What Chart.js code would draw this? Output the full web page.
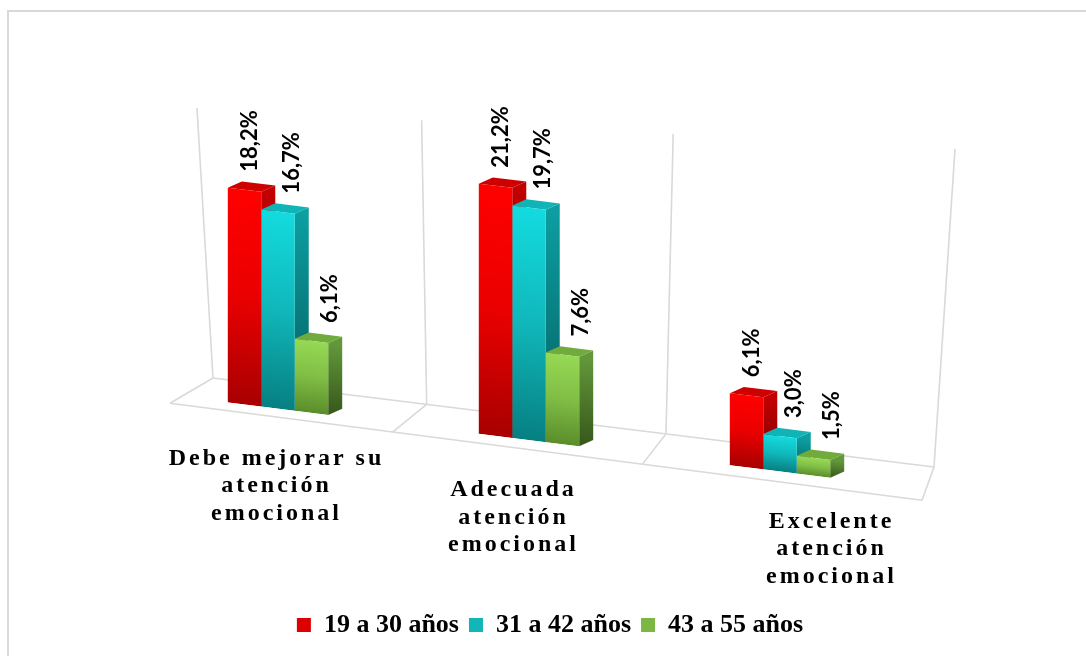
<!DOCTYPE html>
<html>
<head>
<meta charset="utf-8">
<script src="https://cdn.jsdelivr.net/npm/chart.js@4.4.1/dist/chart.umd.min.js"></script>
<style>
html,body{margin:0;padding:0;background:#fff;overflow:hidden}
#wrap{position:relative;width:1086px;height:656px;overflow:hidden}
#frame{position:absolute;left:7px;top:10px;width:1200px;height:800px;border-top:2px solid #d9d9d9;border-left:2px solid #d9d9d9;pointer-events:none}
canvas{position:absolute;left:0;top:0}
</style>
</head>
<body>
<div id="wrap"><canvas id="c" width="1086" height="656"></canvas><div id="frame"></div></div>
<script>
// ---- data ----
const categories = [
  ["Debe mejorar su", "atención", "emocional"],
  ["Adecuada", "atención", "emocional"],
  ["Excelente", "atención", "emocional"]
];
const seriesNames = ["19 a 30 años", "31 a 42 años", "43 a 55 años"];
const age19to30 = [18.2, 21.2, 6.1];
const age31to42 = [16.7, 19.7, 3.0];
const age43to55 = [6.1, 7.6, 1.5];
const valueAxisMax = 25;

// ---- style ----
const palette = [
  {front:['#ff0000','#ea0000','#a80000'], side:['#c20000','#760000'], top:'#cf0000', legend:'#dc0000'},
  {front:['#13dbdf','#10b7ba','#077f81'], side:['#0c9ea1','#045c5e'], top:'#10b3b6', legend:'#12b6b9'},
  {front:['#96d954','#80bd45','#5a8d2b'], side:['#62983a','#36561a'], top:'#70ab3c', legend:'#7cb746'}
];
const K = 0.125;        // floor slope (perspective tilt)
const DX = 14, DY = -8; // bar depth

function frontFill(d) {
  return (c) => {
    const pal = palette[d];
    if (c.type !== 'data' || !c.chart.chartArea) return pal.legend;
    const ys = c.chart.scales.y;
    const t = ys.getPixelForValue(c.raw), b = ys.getPixelForValue(0);
    const g = c.chart.ctx.createLinearGradient(0, t, 0, b);
    g.addColorStop(0, pal.front[0]);
    g.addColorStop(0.5, pal.front[1]);
    g.addColorStop(1, pal.front[2]);
    return g;
  };
}
const fmt = v => v.toFixed(1).replace('.', ',') + '%';
const lerp = (p, q, t) => [p[0] + (q[0] - p[0]) * t, p[1] + (q[1] - p[1]) * t];

const box3d = {
  id: 'box3d',
  beforeDatasetsDraw(chart, args, opts) {
    const {ctx, chartArea: a, scales: {x, y}} = chart;
    const base = y.getPixelForValue(0);
    const sb = px => base + K * (px - a.left);   // sheared floor line
    const n = chart.data.labels.length;
    const f = opts.floor;
    // perspective-spaced floor / wall lines
    const FL = [a.left + f.frontInset[0], sb(a.left + f.frontInset[0]) + f.frontDrop[0]];
    const FR = [a.right + f.frontInset[1], sb(a.right + f.frontInset[1]) + f.frontDrop[1]];
    const BL = [a.left + f.backInset[0], sb(a.left + f.backInset[0]) - f.backRise[0]];
    const BR = [a.right + f.backInset[1], sb(a.right + f.backInset[1]) - f.backRise[1]];
    const TL = [a.left + f.topInset[0], a.top + f.topDrop[0]];
    const TR = [a.right + f.topInset[1], a.top + f.topDrop[1]];
    const tot = (Math.pow(f.ratio, n) - 1);
    const ts = [];
    for (let i = 0; i <= n; i++) ts.push((Math.pow(f.ratio, i) - 1) / tot);
    ctx.save();
    ctx.strokeStyle = '#d9d9d9';
    ctx.lineWidth = 1.6;
    ctx.beginPath();
    ctx.moveTo(FL[0], FL[1]); ctx.lineTo(FR[0], FR[1]);
    ctx.moveTo(BL[0], BL[1]); ctx.lineTo(BR[0], BR[1]);
    ts.forEach(t => {
      const F = lerp(FL, FR, t), B = lerp(BL, BR, t), T = lerp(TL, TR, t);
      ctx.moveTo(F[0], F[1]); ctx.lineTo(B[0], B[1]); ctx.lineTo(T[0], T[1]);
    });
    ctx.stroke();
    ctx.restore();

    // sheared drawing space for the bars
    ctx.save();
    ctx.transform(1, K, 0, 1, 0, -K * a.left);
    const metas = chart.data.datasets.map((_, d) => chart.getDatasetMeta(d));
    for (let j = 0; j < n; j++) {
      metas.forEach((m, d) => {
        const el = m.data[j];
        const {x: bx, y: by, base: bb, width: bw} = el.getProps(['x', 'y', 'base', 'width'], true);
        const l = bx - bw / 2, r = bx + bw / 2;
        const pal = palette[d];
        const g = ctx.createLinearGradient(0, by, 0, bb);
        g.addColorStop(0, pal.side[0]); g.addColorStop(1, pal.side[1]);
        ctx.fillStyle = g;
        ctx.beginPath();
        ctx.moveTo(r, by); ctx.lineTo(r + DX, by + DY); ctx.lineTo(r + DX, bb + DY); ctx.lineTo(r, bb);
        ctx.closePath(); ctx.fill();
        ctx.fillStyle = pal.top;
        ctx.beginPath();
        ctx.moveTo(l, by); ctx.lineTo(l + DX, by + DY); ctx.lineTo(r + DX, by + DY); ctx.lineTo(r, by);
        ctx.closePath(); ctx.fill();
      });
    }
  },
  afterDatasetsDraw(chart, args, opts) {
    const {ctx, chartArea: a, scales: {x, y}} = chart;
    ctx.restore();
    // value labels
    ctx.save();
    ctx.fillStyle = '#000';
    ctx.font = 'bold 22px Lato';
    ctx.textAlign = 'left';
    ctx.textBaseline = 'middle';
    chart.data.datasets.forEach((ds, d) => {
      chart.getDatasetMeta(d).data.forEach((el, j) => {
        const {x: bx, y: by} = el.getProps(['x', 'y'], true);
        const sx = bx + opts.valueLabelDx[d];
        const sy = by + K * (bx - a.left) - 18;
        ctx.save();
        ctx.translate(sx, sy);
        ctx.rotate(-Math.PI / 2);
        ctx.fillText(fmt(ds.data[j]), 0, 0);
        ctx.restore();
      });
    });
    ctx.restore();
    // category labels
    ctx.save();
    ctx.fillStyle = '#000';
    ctx.font = 'bold 24px "Liberation Serif"';
    ctx.letterSpacing = '3px';
    ctx.textAlign = 'center';
    ctx.textBaseline = 'middle';
    const base = y.getPixelForValue(0);
    categories.forEach((lines, i) => {
      const tx = x.getPixelForValue(i);
      const ty = base + K * (tx - a.left) + 50;
      const cx = tx + (opts.labelShift[i] || 0) + 1.5;
      lines.forEach((ln, k) => ctx.fillText(ln, cx, ty + k * 27.5));
    });
    ctx.restore();
  }
};

new Chart(document.getElementById('c'), {
  type: 'bar',
  data: {
    labels: categories.map(c => c.join(' ')),
    datasets: [
      {label: seriesNames[0], data: age19to30, backgroundColor: frontFill(0)},
      {label: seriesNames[1], data: age31to42, backgroundColor: frontFill(1)},
      {label: seriesNames[2], data: age43to55, backgroundColor: frontFill(2)}
    ]
  },
  options: {
    responsive: false,
    animation: false,
    devicePixelRatio: 1,
    events: [],
    layout: {padding: {left: 152.5, right: 138.5, top: 98, bottom: 8}},
    datasets: {bar: {categoryPercentage: 0.4, barPercentage: 1.0, borderWidth: 0}},
    scales: {
      x: {
        display: true,
        grid: {display: false}, border: {display: false}, ticks: {display: false},
        afterFit(s) { s.height = 209; }
      },
      y: {
        position: 'right',
        display: true, min: 0, max: valueAxisMax,
        grid: {display: false}, border: {display: false}, ticks: {display: false},
        afterFit(s) { s.width = 42; }
      }
    },
    plugins: {
      box3d: {
        labelShift: [-3, -17, 50],
        valueLabelDx: [5, 14, 18],
        floor: {
          ratio: 1.12,
          frontInset: [17.5, 16.5], frontDrop: [8, 11],
          backInset: [60.5, 28.5], backRise: [22.6, 23.7],
          topInset: [44.5, 49.5], topDrop: [10, 51]
        }
      },
      tooltip: {enabled: false},
      legend: {
        position: 'bottom',
        labels: {
          color: '#000',
          font: {family: '"Liberation Serif"', size: 26, weight: 'bold'},
          boxWidth: 14, boxHeight: 14, padding: 10,
          generateLabels(chart) {
            return chart.data.datasets.map((ds, i) => ({
              text: ds.label, fillStyle: palette[i].legend, strokeStyle: palette[i].legend,
              lineWidth: 0, hidden: false, datasetIndex: i, fontColor: '#000'
            }));
          }
        }
      }
    }
  },
  plugins: [box3d]
});
</script>
</body>
</html>
